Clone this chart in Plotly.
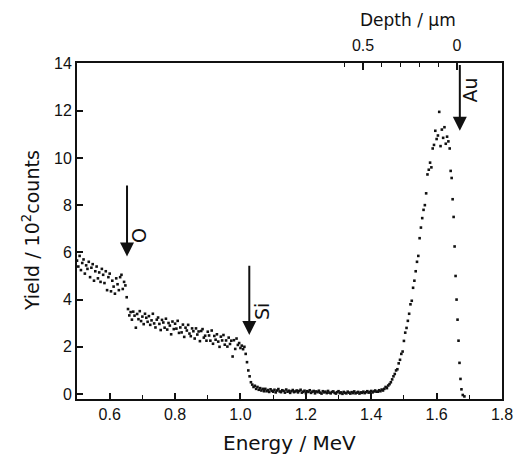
import plotly.graph_objects as go

# ---------------- data ----------------
energy_a = [0.500, 0.504, 0.508, 0.512, 0.516, 0.520, 0.524, 0.528, 0.532, 0.536,
            0.540, 0.544, 0.548, 0.552, 0.556, 0.560, 0.564, 0.568, 0.572, 0.576,
            0.580, 0.584, 0.588, 0.592, 0.596, 0.600, 0.604, 0.608, 0.612, 0.616,
            0.620, 0.624, 0.628, 0.632, 0.636, 0.640, 0.644, 0.648, 0.652]
yield_a = [5.65, 5.40, 5.85, 5.25, 5.55, 5.70, 5.10, 5.45, 5.30, 5.60,
           4.95, 5.35, 5.50, 4.80, 5.20, 5.40, 4.90, 5.15, 4.75, 5.30,
           5.05, 4.70, 5.20, 4.40, 4.95, 5.10, 4.35, 4.80, 4.55, 4.25,
           4.90, 4.65, 4.40, 4.95, 5.05, 4.45, 4.75, 4.60, 4.10]

energy_b = [0.656, 0.660, 0.664, 0.668, 0.672, 0.676, 0.680, 0.684, 0.688, 0.692,
            0.696, 0.700, 0.704, 0.708, 0.712, 0.716, 0.720, 0.724, 0.728, 0.732,
            0.736, 0.740, 0.744, 0.748, 0.752, 0.756, 0.760, 0.764, 0.768, 0.772,
            0.776, 0.780, 0.784, 0.788, 0.792, 0.796, 0.800, 0.804, 0.808, 0.812,
            0.816, 0.820, 0.824, 0.828, 0.832, 0.836, 0.840, 0.844, 0.848, 0.852,
            0.856, 0.860, 0.864, 0.868, 0.872, 0.876, 0.880, 0.884, 0.888, 0.892,
            0.896, 0.900, 0.904, 0.908, 0.912, 0.916, 0.920, 0.924, 0.928, 0.932,
            0.936, 0.940, 0.944, 0.948, 0.952, 0.956, 0.960, 0.964, 0.968, 0.972,
            0.976, 0.980, 0.984, 0.988, 0.992, 0.996, 1.000]
yield_b = [3.60, 3.33, 3.47, 3.15, 3.49, 3.32, 2.81, 3.39, 3.17, 3.51,
           3.09, 3.28, 2.96, 3.40, 3.23, 3.06, 3.30, 2.93, 3.12, 3.40,
           2.99, 2.82, 3.15, 3.24, 2.97, 2.71, 3.14, 3.03, 2.81, 3.19,
           2.73, 3.01, 2.90, 2.53, 3.07, 2.75, 2.98, 2.77, 3.10, 2.59,
           2.82, 2.61, 2.94, 2.42, 2.81, 2.69, 2.93, 2.56, 2.45, 2.78,
           2.66, 2.35, 2.78, 2.52, 2.65, 2.24, 2.67, 2.75, 2.39, 2.47,
           2.26, 2.64, 2.48, 2.26, 2.69, 2.13, 2.46, 2.30, 2.53, 2.22,
           2.00, 2.43, 2.27, 2.50, 2.09, 2.27, 2.01, 2.39, 2.12, 2.26,
           1.59, 2.28, 1.91, 2.35, 2.08, 2.16, 1.95]

energy_c = [1.004, 1.008, 1.012, 1.016, 1.020, 1.024, 1.028, 1.032, 1.036, 1.040,
            1.044, 1.048, 1.052, 1.056, 1.060, 1.064, 1.068, 1.072]
yield_c = [2.05, 1.90, 2.00, 1.70, 1.35, 1.00, 0.75, 0.50, 0.40, 0.30,
           0.35, 0.22, 0.30, 0.18, 0.25, 0.15, 0.22, 0.12]

energy_d = [1.076, 1.080, 1.084, 1.088, 1.092, 1.096, 1.100, 1.104, 1.108, 1.112,
            1.116, 1.120, 1.124, 1.128, 1.132, 1.136, 1.140, 1.144, 1.148, 1.152,
            1.156, 1.160, 1.164, 1.168, 1.172, 1.176, 1.180, 1.184, 1.188, 1.192,
            1.196, 1.200, 1.204, 1.208, 1.212, 1.216, 1.220, 1.224, 1.228, 1.232,
            1.236, 1.240, 1.244, 1.248, 1.252, 1.256, 1.260, 1.264, 1.268, 1.272,
            1.276, 1.280, 1.284, 1.288, 1.292, 1.296, 1.300, 1.304, 1.308, 1.312,
            1.316, 1.320, 1.324, 1.328, 1.332, 1.336, 1.340, 1.344, 1.348, 1.352,
            1.356, 1.360, 1.364, 1.368, 1.372, 1.376, 1.380, 1.384, 1.388, 1.392,
            1.396, 1.400, 1.404, 1.408, 1.412, 1.416]
yield_d = [0.22, 0.12, 0.17, 0.09, 0.20, 0.14, 0.10, 0.18, 0.07, 0.15,
           0.21, 0.11, 0.08, 0.16, 0.13, 0.06, 0.19, 0.10, 0.14, 0.05,
           0.12, 0.17, 0.08, 0.11, 0.15, 0.07, 0.13, 0.18, 0.06, 0.10,
           0.14, 0.04, 0.12, 0.09, 0.16, 0.05, 0.10, 0.13, 0.03, 0.11,
           0.08, 0.14, 0.06, 0.02, 0.12, 0.07, 0.10, 0.04, 0.13, 0.06,
           0.03, 0.09, 0.11, 0.05, 0.02, 0.08, 0.12, 0.04, 0.07, 0.01,
           0.09, 0.05, 0.03, 0.10, 0.06, 0.02, 0.08, 0.04, 0.11, 0.03,
           0.06, 0.09, 0.02, 0.07, 0.05, 0.10, 0.04, 0.08, 0.12, 0.06,
           0.09, 0.13, 0.07, 0.11, 0.15, 0.10]

energy_e = [1.420, 1.424, 1.428, 1.432, 1.436, 1.440, 1.444, 1.448, 1.452, 1.456,
            1.460, 1.464, 1.468, 1.472, 1.476, 1.480, 1.484, 1.488, 1.492, 1.496,
            1.500, 1.504, 1.508, 1.512, 1.516, 1.520, 1.524, 1.528, 1.532, 1.536,
            1.540, 1.544, 1.548, 1.552, 1.556, 1.560, 1.564, 1.568, 1.572, 1.576,
            1.580, 1.584, 1.588, 1.592, 1.596, 1.600, 1.604, 1.608, 1.612, 1.616,
            1.620, 1.624, 1.628, 1.632, 1.636, 1.640, 1.643, 1.646, 1.649, 1.652,
            1.655, 1.658, 1.661, 1.664, 1.667, 1.670, 1.673, 1.676, 1.680, 1.685]
yield_e = [0.10, 0.16, 0.12, 0.19, 0.15, 0.22, 0.30, 0.25, 0.36, 0.42,
           0.50, 0.62, 0.75, 0.85, 1.00, 1.05, 1.30, 1.45, 1.70, 1.80,
           2.25, 2.60, 2.80, 3.10, 3.40, 3.80, 3.95, 4.50, 4.80, 5.20,
           5.60, 5.85, 6.60, 7.05, 7.45, 7.80, 8.00, 8.50, 9.30, 9.50,
           9.80, 9.60, 10.40, 10.55, 11.15, 10.80, 10.95, 11.95, 10.50, 11.20,
           10.85, 11.30, 10.60, 10.90, 10.70, 10.40, 9.45, 9.15, 8.25, 7.50,
           6.25, 5.00, 4.00, 3.15, 2.26, 1.32, 0.64, 0.20, -0.04, -0.10]

energy = energy_a + energy_b + energy_c + energy_d + energy_e
yield_counts = yield_a + yield_b + yield_c + yield_d + yield_e

# element edge markers
edge_labels = ["O", "Si", "Au"]
edge_energy = [0.653, 1.027, 1.671]
edge_arrow_top = [8.9, 5.5, 14.0]
edge_arrow_tip = [5.83, 2.5, 11.15]
edge_label_energy = [0.690, 1.068, 1.702]
edge_label_yield = [6.7, 3.5, 12.9]

# axes
energy_ticks = [0.6, 0.8, 1.0, 1.2, 1.4, 1.6, 1.8]
yield_ticks = [0, 2, 4, 6, 8, 10, 12, 14]
depth_ticks = [0.5, 0]
depth_tick_labels = ["0.5", "0"]
depth_minor_ticks = [0.6, 0.4, 0.3, 0.2, 0.1]
energy_range = [0.5, 1.8]
yield_range = [-0.21, 14.02]
surface_energy = 1.6624      # energy at depth 0
energy_per_um = 0.575        # MeV per µm of depth

depth_range = [(surface_energy - energy_range[0]) / energy_per_um,
               (surface_energy - energy_range[1]) / energy_per_um]

TICK_FONT = dict(family="Liberation Sans Narrow, Liberation Sans, Arial, sans-serif",
                 size=16, color="#111")
TITLE_FAMILY = "DejaVu Sans, Liberation Sans, sans-serif"

fig = go.Figure()
fig.add_trace(go.Scatter(
    x=energy, y=yield_counts, mode="markers",
    marker=dict(size=2.6, color="#111", symbol="square"),
    showlegend=False, hoverinfo="skip"))
# invisible trace so the depth axis is drawn
fig.add_trace(go.Scatter(x=depth_range, y=[None, None], xaxis="x2", yaxis="y",
                         mode="markers", showlegend=False, hoverinfo="skip"))

for lab, e, top, tip, le, ly in zip(edge_labels, edge_energy, edge_arrow_top,
                                    edge_arrow_tip, edge_label_energy, edge_label_yield):
    fig.add_annotation(x=e, y=tip, ax=e, ay=top, xref="x", yref="y",
                       axref="x", ayref="y", showarrow=True, arrowhead=2,
                       arrowsize=1.4, arrowwidth=2, arrowcolor="#111", text="")
    fig.add_annotation(x=le, y=ly, xref="x", yref="y", text=lab, showarrow=False,
                       textangle=-90, font=dict(family=TITLE_FAMILY, size=19, color="#111"))

# axis titles
fig.add_annotation(text="Energy / MeV", xref="paper", yref="paper", x=0.501, y=-0.131,
                   showarrow=False, xanchor="center", yanchor="middle",
                   font=dict(family=TITLE_FAMILY, size=20, color="#111"))
fig.add_annotation(text="Yield / 10<sup>2</sup>counts", xref="paper", yref="paper",
                   x=-0.108, y=0.5, showarrow=False, textangle=-90,
                   xanchor="center", yanchor="middle",
                   font=dict(family=TITLE_FAMILY, size=19, color="#111"))
fig.add_annotation(text="Depth / µm", xref="paper", yref="paper", x=0.779, y=1.128,
                   showarrow=False, xanchor="center", yanchor="middle",
                   font=dict(family=TITLE_FAMILY, size=17, color="#111"))

# the page places the figure 8 px from the window's top-left corner
fig.update_layout(
    width=518, height=450,
    margin=dict(l=69, r=24, t=55, b=59),
    plot_bgcolor="white", paper_bgcolor="white",
    xaxis=dict(range=energy_range, tickvals=energy_ticks,
               ticktext=[f"{v:.1f}" for v in energy_ticks],
               ticks="inside", ticklen=6, tickwidth=1.5, tickcolor="#111",
               minor=dict(dtick=0.1, tick0=0.5, ticks="inside", ticklen=4,
                          tickwidth=1.2, tickcolor="#111"),
               showline=True, linecolor="#111", linewidth=2, mirror=True,
               showgrid=False, zeroline=False, tickfont=TICK_FONT,
               automargin=False),
    xaxis2=dict(overlaying="x", side="top", range=depth_range,
                tickvals=depth_ticks, ticktext=depth_tick_labels,
                ticks="inside", ticklen=7, tickwidth=1.5, tickcolor="#111",
                minor=dict(tickvals=depth_minor_ticks, ticks="inside", ticklen=4,
                           tickwidth=1.2, tickcolor="#111"),
                ticklabelstandoff=8,
                showline=False, showgrid=False, zeroline=False, tickfont=TICK_FONT,
                automargin=False),
    yaxis=dict(range=yield_range, tickvals=yield_ticks,
               ticks="inside", ticklen=6, tickwidth=1.5, tickcolor="#111",
               showline=True, linecolor="#111", linewidth=2, mirror=True,
               showgrid=False, zeroline=False, tickfont=TICK_FONT,
               automargin=False),
)

fig.write_html("out.html")
